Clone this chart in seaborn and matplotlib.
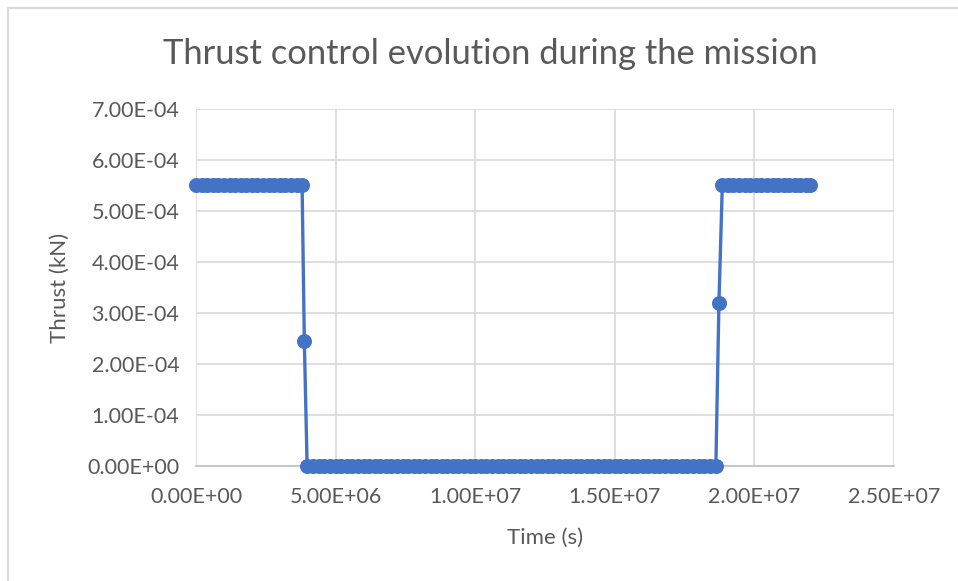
import matplotlib
matplotlib.use("Agg")
import matplotlib.pyplot as plt
import matplotlib.ticker as mticker
from matplotlib.lines import Line2D
import seaborn as sns
import pandas as pd

# Time (s) samples
time_s = [
    0.0e6, 0.2e6, 0.4e6, 0.6e6, 0.8e6, 1.0e6, 1.2e6, 1.4e6, 1.6e6, 1.8e6,
    2.0e6, 2.2e6, 2.4e6, 2.6e6, 2.8e6, 3.0e6, 3.2e6, 3.4e6, 3.6e6, 3.8e6,
    3.88e6,
    3.98e6, 4.2e6, 4.4e6, 4.6e6, 4.8e6, 5.0e6, 5.2e6, 5.4e6, 5.6e6, 5.8e6,
    6.0e6, 6.2e6, 6.4e6, 6.6e6, 6.8e6, 7.0e6, 7.2e6, 7.4e6, 7.6e6, 7.8e6,
    8.0e6, 8.2e6, 8.4e6, 8.6e6, 8.8e6, 9.0e6, 9.2e6, 9.4e6, 9.6e6, 9.8e6,
    10.0e6, 10.2e6, 10.4e6, 10.6e6, 10.8e6, 11.0e6, 11.2e6, 11.4e6, 11.6e6, 11.8e6,
    12.0e6, 12.2e6, 12.4e6, 12.6e6, 12.8e6, 13.0e6, 13.2e6, 13.4e6, 13.6e6, 13.8e6,
    14.0e6, 14.2e6, 14.4e6, 14.6e6, 14.8e6, 15.0e6, 15.2e6, 15.4e6, 15.6e6, 15.8e6,
    16.0e6, 16.2e6, 16.4e6, 16.6e6, 16.8e6, 17.0e6, 17.2e6, 17.4e6, 17.6e6, 17.8e6,
    18.0e6, 18.2e6, 18.4e6, 18.62e6,
    18.73e6,
    18.85e6, 19.05e6, 19.25e6, 19.45e6, 19.65e6, 19.85e6, 20.05e6, 20.25e6,
    20.45e6, 20.65e6, 20.85e6, 21.05e6, 21.25e6, 21.45e6, 21.65e6, 21.85e6, 22.0e6,
]

# Thrust (kN) at each sample
thrust_kn = (
    [5.5e-4] * 20
    + [2.45e-4]
    + [0.0] * 74
    + [3.2e-4]
    + [5.5e-4] * 17
)

x_ticks = [0.0, 5.0e6, 1.0e7, 1.5e7, 2.0e7, 2.5e7]
y_ticks = [0.0, 1e-4, 2e-4, 3e-4, 4e-4, 5e-4, 6e-4, 7e-4]

df = pd.DataFrame({"Time (s)": time_s, "Thrust (kN)": thrust_kn})

sns.set_theme(style="white")
plt.rcParams["font.family"] = ["Lato", "DejaVu Sans"]

TEXT = "#595959"
GRID = "#d9d9d9"
BLUE = "#4472C4"

fig = plt.figure(figsize=(9.58, 5.81), dpi=100)
ax = fig.add_axes([196 / 958, 1 - 466 / 581, (894 - 196) / 958, (466 - 109) / 581])

sns.lineplot(data=df, x="Time (s)", y="Thrust (kN)", ax=ax, color=BLUE,
             linewidth=2.4, marker="o", markersize=10.8, markeredgecolor=BLUE,
             markeredgewidth=0, sort=False, estimator=None, zorder=3,
             clip_on=False)

ax.set_xlim(0, 2.5e7)
ax.set_ylim(0, 7e-4)
ax.set_xticks(x_ticks)
ax.set_yticks(y_ticks)
ax.xaxis.set_major_formatter(mticker.FuncFormatter(lambda v, p: f"{v:.2E}"))
ax.yaxis.set_major_formatter(mticker.FuncFormatter(lambda v, p: f"{v:.2E}"))
ax.tick_params(axis="both", length=0, labelsize=15.5, colors=TEXT)
ax.tick_params(axis="x", pad=15)
ax.tick_params(axis="y", pad=12)
ax.grid(True, color=GRID, linewidth=1.2, zorder=0)
ax.set_axisbelow(True)
for s in ["top", "right", "left"]:
    ax.spines[s].set_visible(False)
ax.spines["bottom"].set_color("#bfbfbf")
ax.spines["bottom"].set_linewidth(1.2)

ax.set_xlabel("Time (s)", fontsize=16, color=TEXT)
ax.set_ylabel("Thrust (kN)", fontsize=16, color=TEXT)
ax.xaxis.set_label_coords((545 - 196) / 698, (466 - 538) / 357)
ax.yaxis.set_label_coords((60 - 196) / 698, 0.5)
ax.xaxis.label.set_va("center")
ax.yaxis.label.set_va("center")

fig.text(490 / 958, 1 - 54 / 581, "Thrust control evolution during the mission",
         ha="center", va="center", fontsize=24.8, color=TEXT)

# chart border (top and left edges visible)
fig.lines.append(Line2D([8 / 958, 8 / 958], [0, 1 - 8 / 581], transform=fig.transFigure,
                        color="#d9d9d9", linewidth=1.5))
fig.lines.append(Line2D([8 / 958, 1], [1 - 8 / 581, 1 - 8 / 581], transform=fig.transFigure,
                        color="#d9d9d9", linewidth=1.5))

fig.savefig("out.png", dpi=100, facecolor="white")
